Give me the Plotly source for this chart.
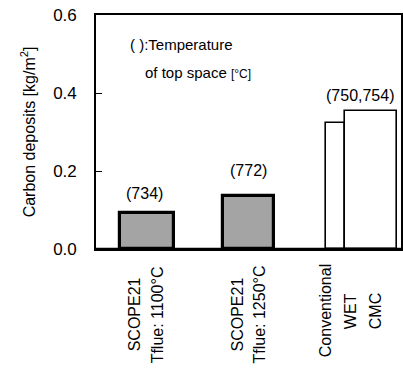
import plotly.graph_objects as go

# ---- data ----
bar_x = [1.0, 3.0, 4.71, 5.41]
bar_width = [1.06, 1.02, 0.37, 1.03]
carbon = [0.092, 0.135, 0.323, 0.354]
bar_kind = ["scope", "scope", "conv", "conv"]

temp_labels = ["(734)", "(772)", "(750,754)"]
temp_label_x = [0.96, 3.0, 5.2]
temp_label_y = [0.092, 0.135, 0.354]

group_x = [0.99, 3.01, 5.0]
group_lines = [["SCOPE21", "Tflue: 1100°C"],
               ["SCOPE21", "Tflue: 1250°C"],
               ["Conventional", "WET", "CMC"]]

y_ticks = [0.0, 0.2, 0.4, 0.6]
y_ticktext = ["0.0", "0.2", "0.4", "0.6"]

FONT = "Liberation Sans, Arial, sans-serif"

fig = go.Figure()

for kind, fill, lw in [("scope", "#a4a4a4", 3.2), ("conv", "white", 1.6)]:
    idx = [i for i, k in enumerate(bar_kind) if k == kind]
    fig.add_trace(go.Bar(
        x=[bar_x[i] for i in idx],
        y=[carbon[i] for i in idx],
        width=[bar_width[i] for i in idx],
        marker=dict(color=fill, line=dict(color="black", width=lw)),
        showlegend=False,
        hoverinfo="skip",
    ))

annotations = []
shifts = [9, 15, 5]
for t, x, y, s in zip(temp_labels, temp_label_x, temp_label_y, shifts):
    annotations.append(dict(x=x, y=y, xref="x", yref="y", text=t, showarrow=False,
                            yanchor="bottom", yshift=s, font=dict(size=16, family=FONT, color="black")))

spacing = [23, 22, 25]
label_y = [-0.28, -0.28, -0.265]
for gx, lines, sp, ly in zip(group_x, group_lines, spacing, label_y):
    n = len(lines)
    for j, line in enumerate(lines):
        off = (j - (n - 1) / 2) * sp
        annotations.append(dict(x=gx, y=ly, xref="x", yref="paper", text=line, showarrow=False,
                                textangle=-90, xshift=off, xanchor="center", yanchor="middle",
                                font=dict(size=16, family=FONT, color="black")))

annotations.append(dict(x=0.105, y=0.872, xref="paper", yref="paper", text="( ):Temperature",
                        showarrow=False, xanchor="left", yanchor="middle",
                        font=dict(size=15, family=FONT, color="black")))
annotations.append(dict(x=0.155, y=0.756, xref="paper", yref="paper",
                        text="of top space <span style='font-size:12px'>[°C]</span>",
                        showarrow=False, xanchor="left", yanchor="middle",
                        font=dict(size=15, family=FONT, color="black")))

fig.update_layout(
    width=403, height=369,
    margin=dict(l=96, r=2, t=15, b=120),
    paper_bgcolor="white", plot_bgcolor="white",
    bargap=0,
    font=dict(family=FONT, size=16, color="black"),
    annotations=annotations,
    shapes=[dict(type="line", xref="paper", yref="paper", x0=0, x1=1, y0=0, y1=0,
                 line=dict(color="black", width=2.6), layer="above")],
)
fig.update_xaxes(range=[0, 6], showticklabels=False, ticks="", showgrid=False, zeroline=False,
                 showline=True, linecolor="black", linewidth=1.6, mirror=True, automargin=False)
fig.update_yaxes(range=[0, 0.6], tickvals=y_ticks, ticktext=y_ticktext, ticks="inside", ticklen=6,
                 tickcolor="black", tickwidth=1.2, showgrid=False, zeroline=False,
                 showline=True, linecolor="black", linewidth=1.6, mirror=True,
                 ticklabelstandoff=14, automargin=False,
                 title=dict(text="Carbon deposits [kg/m<sup>2</sup>]", standoff=14,
                            font=dict(size=16, family=FONT, color="black")),
                 tickfont=dict(size=17, family=FONT, color="black"))

fig.write_html("out.html", config={"displayModeBar": False},
               post_script="document.body.style.margin='0';document.body.style.overflow='hidden';")
